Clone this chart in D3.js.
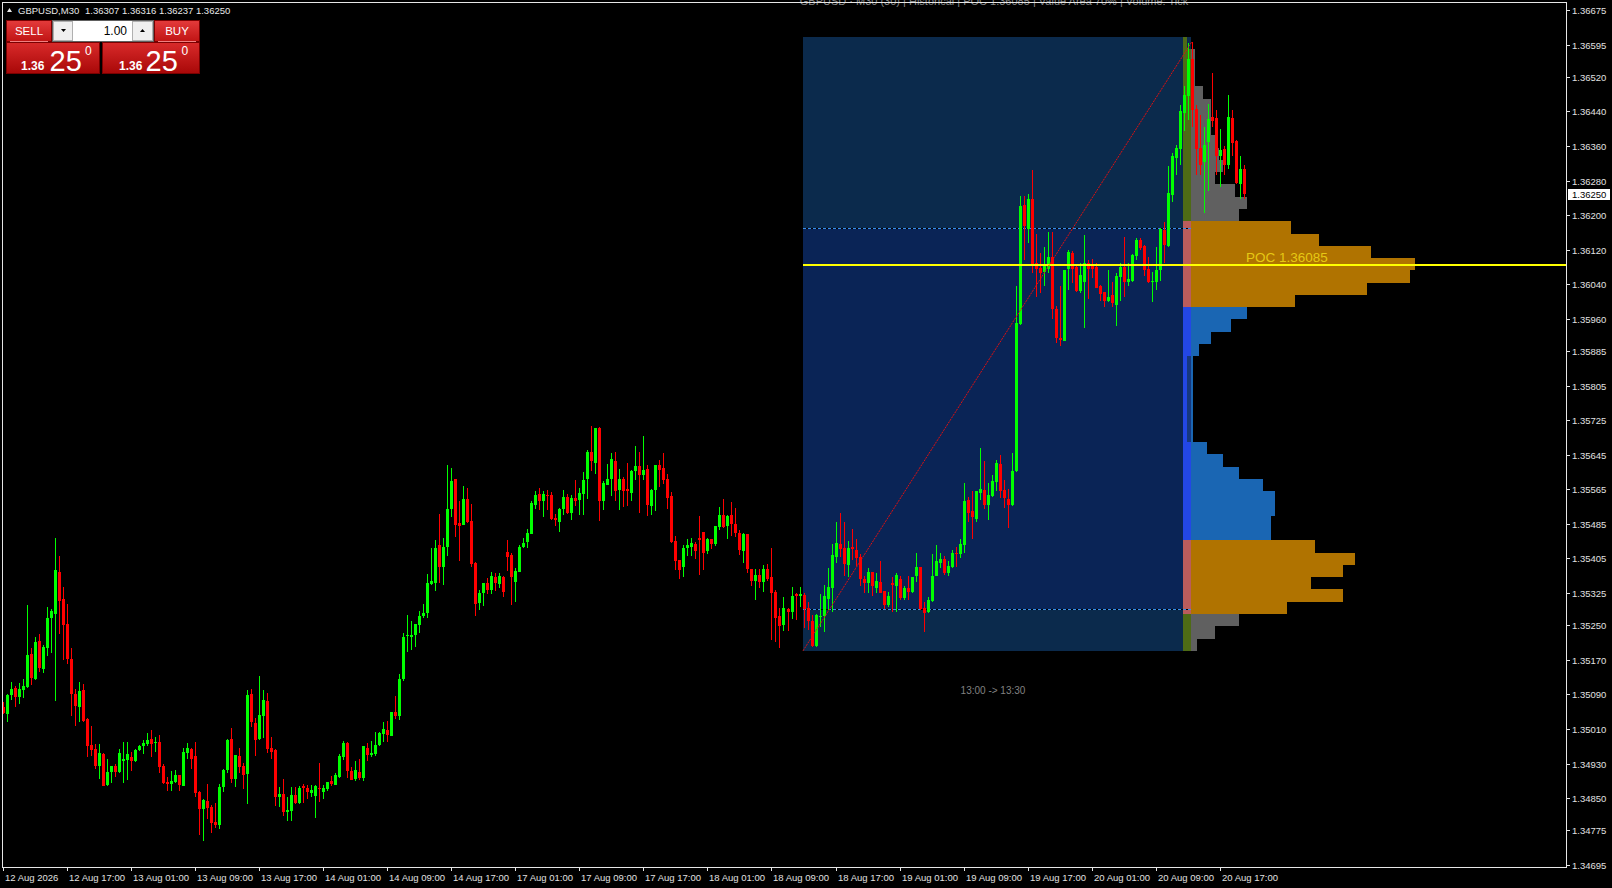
<!DOCTYPE html>
<html><head><meta charset="utf-8">
<script src="https://cdn.jsdelivr.net/npm/d3@7"></script>
<style>
html,body{margin:0;padding:0;background:#000;overflow:hidden}
svg{display:block}
text{font-family:"Liberation Sans",Arial,sans-serif}
</style></head><body>
<svg id="c" width="1612" height="888"></svg>
<script>
// ---------------- DATA ----------------
const symbol = "GBPUSD,M30";
const timeLabels = ["12 Aug 2026","12 Aug 17:00","13 Aug 01:00","13 Aug 09:00","13 Aug 17:00","14 Aug 01:00","14 Aug 09:00","14 Aug 17:00","17 Aug 01:00","17 Aug 09:00","17 Aug 17:00","18 Aug 01:00","18 Aug 09:00","18 Aug 17:00","19 Aug 01:00","19 Aug 09:00","19 Aug 17:00","20 Aug 01:00","20 Aug 09:00","20 Aug 17:00"];
const barsPerLabel = 16;
const priceTicks = [1.36675,1.36595,1.36520,1.36440,1.36360,1.36280,1.36200,1.36120,1.36040,1.35960,1.35885,1.35805,1.35725,1.35645,1.35565,1.35485,1.35405,1.35325,1.35250,1.35170,1.35090,1.35010,1.34930,1.34850,1.34775,1.34695];

const opens = [
1.35062,1.35045,1.35089,1.35104,1.35085,1.35100,1.35108,1.35183,1.35125,1.35213,
1.35149,1.35198,1.35268,1.35276,1.35373,1.35310,1.35253,1.35172,1.35091,1.35062,
1.35100,1.35033,1.34973,1.34963,1.34925,1.34952,1.34880,1.34910,1.34924,1.34910,
1.34937,1.34938,1.34944,1.34937,1.34961,1.34970,1.34975,1.34986,1.34977,1.34980,
1.34924,1.34888,1.34882,1.34888,1.34903,1.34879,1.34954,1.34963,1.34947,1.34864,
1.34824,1.34843,1.34830,1.34795,1.34787,1.34876,1.34915,1.34986,1.34895,1.34947,
1.34924,1.34906,1.35091,1.35024,1.34986,1.35041,1.35075,1.34966,1.34962,1.34853,
1.34859,1.34818,1.34821,1.34857,1.34838,1.34879,1.34874,1.34861,1.34855,1.34874,
1.34865,1.34871,1.34890,1.34880,1.34899,1.34946,1.34977,1.34913,1.34895,1.34911,
1.34897,1.34967,1.34950,1.34952,1.34972,1.34998,1.35007,1.34994,1.35050,1.35041,
1.35126,1.35225,1.35222,1.35228,1.35251,1.35272,1.35279,1.35346,1.35349,1.35435,
1.35384,1.35432,1.35520,1.35589,1.35488,1.35483,1.35543,1.35492,1.35395,1.35301,
1.35325,1.35349,1.35332,1.35363,1.35345,1.35363,1.35421,1.35413,1.35351,1.35374,
1.35432,1.35442,1.35462,1.35529,1.35554,1.35538,1.35552,1.35552,1.35499,1.35490,
1.35520,1.35547,1.35511,1.35546,1.35540,1.35554,1.35589,1.35651,1.35627,1.35706,
1.35538,1.35576,1.35589,1.35631,1.35564,1.35589,1.35566,1.35556,1.35608,1.35620,
1.35598,1.35612,1.35527,1.35564,1.35621,1.35614,1.35589,1.35550,1.35445,1.35401,
1.35384,1.35430,1.35432,1.35438,1.35453,1.35466,1.35422,1.35449,1.35438,1.35477,
1.35506,1.35479,1.35506,1.35485,1.35463,1.35423,1.35462,1.35381,1.35353,1.35367,
1.35351,1.35381,1.35361,1.35328,1.35272,1.35251,1.35287,1.35282,1.35322,1.35317,
1.35320,1.35290,1.35259,1.35203,1.35269,1.35272,1.35311,1.35337,1.35409,1.35438,
1.35430,1.35390,1.35432,1.35425,1.35408,1.35357,1.35347,1.35374,1.35337,1.35351,
1.35330,1.35296,1.35347,1.35342,1.35357,1.35314,1.35337,1.35328,1.35365,1.35385,
1.35290,1.35280,1.35306,1.35365,1.35395,1.35404,1.35372,1.35386,1.35418,1.35415,
1.35436,1.35540,1.35515,1.35496,1.35557,1.35564,1.35529,1.35550,1.35583,1.35624,
1.35564,1.35543,1.35529,1.35608,1.35948,1.36224,1.36168,1.36238,1.36089,1.36077,
1.36069,1.36075,1.36102,1.35982,1.35915,1.35909,1.36075,1.36112,1.36079,1.36025,
1.36046,1.36089,1.36085,1.36079,1.36035,1.36023,1.36002,1.36014,1.35992,1.36056,
1.36079,1.36046,1.36048,1.36106,1.36143,1.36129,1.36075,1.36046,1.36044,1.36072,
1.36166,1.36129,1.36247,1.36333,1.36353,1.36436,1.36476,1.36561,1.36445,1.36355,
1.36322,1.36370,1.36427,1.36424,1.36337,1.36353,1.36316,1.36424,1.36372,1.36272,
1.36307];
const highs = [
1.35073,1.35092,1.35118,1.35109,1.35116,1.35125,1.35297,1.35197,1.35222,1.35229,
1.35204,1.35292,1.35288,1.35452,1.35410,1.35338,1.35299,1.35197,1.35102,1.35118,
1.35114,1.35035,1.35017,1.34975,1.34975,1.34954,1.34940,1.34924,1.34930,1.34963,
1.34979,1.34979,1.34956,1.34963,1.34973,1.34984,1.35000,1.35008,1.34992,1.34995,
1.34930,1.34899,1.34912,1.34915,1.34903,1.34967,1.34977,1.34966,1.34979,1.34866,
1.34849,1.34882,1.34834,1.34838,1.34882,1.34918,1.34986,1.35012,1.34950,1.34966,
1.34932,1.35100,1.35102,1.35035,1.35133,1.35100,1.35094,1.34991,1.34964,1.34876,
1.34894,1.34853,1.34876,1.34876,1.34879,1.34882,1.34880,1.34880,1.34880,1.34932,
1.34880,1.34888,1.34902,1.34909,1.34952,1.34983,1.34980,1.34923,1.34936,1.34941,
1.34970,1.34977,1.34983,1.35003,1.35004,1.35026,1.35028,1.35050,1.35087,1.35137,
1.35232,1.35274,1.35260,1.35253,1.35284,1.35300,1.35369,1.35429,1.35448,1.35508,
1.35452,1.35621,1.35614,1.35589,1.35537,1.35573,1.35567,1.35531,1.35396,1.35332,
1.35349,1.35359,1.35374,1.35372,1.35371,1.35364,1.35448,1.35417,1.35382,1.35435,
1.35452,1.35472,1.35538,1.35561,1.35568,1.35561,1.35564,1.35559,1.35508,1.35521,
1.35564,1.35554,1.35552,1.35587,1.35568,1.35605,1.35656,1.35712,1.35706,1.35709,
1.35585,1.35624,1.35648,1.35652,1.35612,1.35593,1.35626,1.35610,1.35665,1.35652,
1.35689,1.35621,1.35566,1.35621,1.35633,1.35650,1.35601,1.35559,1.35457,1.35401,
1.35435,1.35449,1.35452,1.35442,1.35503,1.35466,1.35453,1.35449,1.35480,1.35523,
1.35543,1.35506,1.35536,1.35521,1.35471,1.35463,1.35462,1.35381,1.35381,1.35381,
1.35390,1.35392,1.35428,1.35332,1.35290,1.35315,1.35290,1.35338,1.35326,1.35338,
1.35326,1.35305,1.35274,1.35276,1.35322,1.35344,1.35382,1.35438,1.35489,1.35510,
1.35490,1.35445,1.35473,1.35450,1.35415,1.35365,1.35382,1.35374,1.35371,1.35399,
1.35330,1.35328,1.35363,1.35372,1.35365,1.35341,1.35364,1.35363,1.35417,1.35385,
1.35303,1.35315,1.35415,1.35436,1.35418,1.35411,1.35400,1.35425,1.35432,1.35449,
1.35580,1.35547,1.35560,1.35562,1.35660,1.35631,1.35579,1.35598,1.35632,1.35645,
1.35587,1.35565,1.35650,1.36035,1.36245,1.36245,1.36249,1.36305,1.36157,1.36112,
1.36126,1.36160,1.36160,1.35990,1.36035,1.36073,1.36119,1.36116,1.36085,1.36089,
1.36154,1.36096,1.36098,1.36089,1.36038,1.36023,1.36072,1.36046,1.36065,1.36089,
1.36150,1.36089,1.36110,1.36146,1.36146,1.36131,1.36104,1.36069,1.36127,1.36170,
1.36185,1.36314,1.36343,1.36363,1.36455,1.36498,1.36598,1.36602,1.36455,1.36432,
1.36404,1.36458,1.36530,1.36444,1.36399,1.36359,1.36478,1.36444,1.36374,1.36336,
1.36316];
const lows = [
1.35044,1.35027,1.35077,1.35060,1.35068,1.35082,1.35104,1.35112,1.35123,1.35143,
1.35139,1.35180,1.35187,1.35075,1.35231,1.35170,1.35160,1.35041,1.35018,1.35027,
1.35027,1.34946,1.34947,1.34917,1.34895,1.34878,1.34878,1.34886,1.34899,1.34907,
1.34886,1.34892,1.34913,1.34933,1.34960,1.34952,1.34971,1.34946,1.34957,1.34909,
1.34882,1.34867,1.34866,1.34884,1.34867,1.34878,1.34940,1.34918,1.34852,1.34765,
1.34751,1.34801,1.34770,1.34780,1.34778,1.34864,1.34907,1.34886,1.34875,1.34909,
1.34872,1.34836,1.35015,1.34948,1.34984,1.34990,1.34954,1.34941,1.34831,1.34830,
1.34809,1.34798,1.34798,1.34836,1.34836,1.34838,1.34847,1.34852,1.34804,1.34842,
1.34849,1.34867,1.34879,1.34880,1.34896,1.34938,1.34897,1.34892,1.34890,1.34892,
1.34890,1.34936,1.34946,1.34948,1.34970,1.34981,1.34981,1.34994,1.35032,1.35031,
1.35120,1.35188,1.35193,1.35201,1.35232,1.35266,1.35266,1.35344,1.35330,1.35349,
1.35344,1.35411,1.35502,1.35455,1.35398,1.35483,1.35488,1.35384,1.35272,1.35286,
1.35295,1.35322,1.35323,1.35330,1.35337,1.35315,1.35376,1.35297,1.35305,1.35373,
1.35430,1.35430,1.35462,1.35520,1.35517,1.35502,1.35517,1.35493,1.35479,1.35467,
1.35506,1.35508,1.35494,1.35527,1.35506,1.35506,1.35543,1.35608,1.35601,1.35492,
1.35516,1.35574,1.35550,1.35537,1.35517,1.35523,1.35527,1.35537,1.35587,1.35510,
1.35587,1.35503,1.35506,1.35515,1.35571,1.35577,1.35520,1.35440,1.35378,1.35357,
1.35361,1.35411,1.35411,1.35404,1.35367,1.35378,1.35415,1.35426,1.35434,1.35471,
1.35475,1.35449,1.35458,1.35454,1.35413,1.35395,1.35371,1.35340,1.35309,1.35336,
1.35328,1.35353,1.35216,1.35212,1.35198,1.35238,1.35236,1.35265,1.35262,1.35293,
1.35245,1.35239,1.35199,1.35201,1.35247,1.35234,1.35285,1.35282,1.35395,1.35409,
1.35365,1.35363,1.35401,1.35388,1.35340,1.35324,1.35326,1.35318,1.35326,1.35324,
1.35287,1.35293,1.35280,1.35280,1.35309,1.35309,1.35309,1.35324,1.35351,1.35286,
1.35234,1.35278,1.35303,1.35364,1.35382,1.35367,1.35364,1.35382,1.35386,1.35405,
1.35417,1.35490,1.35449,1.35490,1.35540,1.35519,1.35494,1.35548,1.35560,1.35544,
1.35521,1.35476,1.35527,1.35605,1.35945,1.36096,1.36135,1.36065,1.36011,1.36019,
1.36036,1.36067,1.35959,1.35903,1.35896,1.35909,1.36027,1.36042,1.36023,1.36019,
1.35938,1.36005,1.36054,1.36031,1.36000,1.35987,1.35998,1.35988,1.35944,1.36000,
1.36011,1.36035,1.36046,1.36096,1.36119,1.36058,1.36042,1.35998,1.36027,1.36048,
1.36089,1.36126,1.36231,1.36293,1.36316,1.36394,1.36421,1.36405,1.36293,1.36293,
1.36204,1.36255,1.36405,1.36293,1.36266,1.36293,1.36306,1.36337,1.36272,1.36237,
1.36237];
const closes = [
1.35046,1.35089,1.35102,1.35085,1.35102,1.35109,1.35181,1.35129,1.35211,1.35152,
1.35200,1.35268,1.35283,1.35378,1.35307,1.35251,1.35172,1.35091,1.35063,1.35098,
1.35028,1.34971,1.34961,1.34925,1.34954,1.34879,1.34910,1.34924,1.34910,1.34954,
1.34940,1.34952,1.34937,1.34961,1.34970,1.34977,1.34984,1.34975,1.34980,1.34923,
1.34886,1.34882,1.34889,1.34903,1.34880,1.34957,1.34966,1.34940,1.34861,1.34825,
1.34845,1.34828,1.34793,1.34787,1.34876,1.34915,1.34984,1.34895,1.34950,1.34923,
1.34903,1.35089,1.35026,1.34984,1.35042,1.35077,1.34963,1.34957,1.34853,1.34859,
1.34818,1.34822,1.34857,1.34838,1.34874,1.34874,1.34865,1.34869,1.34878,1.34870,
1.34874,1.34887,1.34882,1.34903,1.34947,1.34977,1.34913,1.34893,1.34916,1.34897,
1.34970,1.34950,1.34955,1.34972,1.35001,1.35010,1.34996,1.35050,1.35041,1.35126,
1.35224,1.35228,1.35228,1.35253,1.35272,1.35278,1.35349,1.35353,1.35430,1.35384,
1.35432,1.35520,1.35584,1.35483,1.35480,1.35543,1.35489,1.35393,1.35300,1.35325,
1.35349,1.35332,1.35365,1.35349,1.35365,1.35328,1.35409,1.35361,1.35377,1.35432,
1.35440,1.35463,1.35533,1.35552,1.35538,1.35554,1.35550,1.35496,1.35493,1.35520,
1.35547,1.35510,1.35546,1.35537,1.35556,1.35587,1.35651,1.35631,1.35706,1.35537,
1.35580,1.35589,1.35635,1.35561,1.35589,1.35562,1.35560,1.35608,1.35620,1.35598,
1.35610,1.35529,1.35564,1.35621,1.35610,1.35587,1.35545,1.35442,1.35399,1.35378,
1.35430,1.35435,1.35440,1.35422,1.35448,1.35418,1.35450,1.35438,1.35479,1.35506,
1.35477,1.35503,1.35485,1.35463,1.35425,1.35462,1.35381,1.35353,1.35367,1.35351,
1.35381,1.35357,1.35326,1.35268,1.35249,1.35290,1.35282,1.35318,1.35318,1.35323,
1.35288,1.35259,1.35203,1.35274,1.35272,1.35318,1.35338,1.35413,1.35440,1.35427,
1.35392,1.35430,1.35426,1.35407,1.35357,1.35347,1.35374,1.35340,1.35353,1.35326,
1.35297,1.35318,1.35344,1.35367,1.35314,1.35337,1.35328,1.35363,1.35386,1.35288,
1.35279,1.35309,1.35364,1.35398,1.35404,1.35371,1.35388,1.35418,1.35415,1.35438,
1.35538,1.35510,1.35500,1.35560,1.35566,1.35529,1.35552,1.35584,1.35627,1.35562,
1.35544,1.35529,1.35608,1.35950,1.36222,1.36174,1.36238,1.36085,1.36075,1.36067,
1.36081,1.36102,1.35982,1.35915,1.35911,1.36073,1.36115,1.36075,1.36025,1.36062,
1.36089,1.36075,1.36075,1.36032,1.36018,1.36000,1.36011,1.35996,1.36059,1.36079,
1.36046,1.36052,1.36108,1.36143,1.36123,1.36072,1.36044,1.36048,1.36073,1.36168,
1.36131,1.36251,1.36336,1.36355,1.36440,1.36478,1.36561,1.36444,1.36353,1.36316,
1.36363,1.36422,1.36419,1.36337,1.36351,1.36316,1.36427,1.36368,1.36274,1.36306,
1.36250];

// Volume profile (bins from low to high)
const profileLow = 1.35191, profileHigh = 1.36612;
const profileVolume = [27,107,214,428,678,535,678,732,553,357,
357,375,375,321,214,143,71,9,9,9,
9,9,9,9,36,89,178,250,464,785,
977,1000,803,571,446,214,250,196,107,143,
125,107,89,89,89,54,18,18,18,0];
const pocPrice = 1.36085, vahPrice = 1.36170, valPrice = 1.35288;
const highVolumeNode = 400;
const rangeStartBar = 200, rangeEndBar = 295;
const rangeLabel = "13:00 -> 13:30";
const indicatorTitle = "GBPUSD · M30 (30) | Historical | POC 1.36085 | Value Area 70% | Volume: Tick";

// ---------------- DRAW ----------------
const svg = d3.select("#c");
const plot = {left:2, top:2, right:1566, bottom:867};
const x = d3.scaleLinear().domain([0, 304]).range([2.6, 1220.0]);
const y = d3.scaleLinear().domain([1.34695, 1.36675]).range([865, 10]);
const vol = d3.scaleLinear().domain([0, d3.max(profileVolume)]).range([0, 224]);

const defs = svg.append("defs");
defs.append("clipPath").attr("id","plotclip").append("rect")
  .attr("x",plot.left).attr("y",plot.top).attr("width",plot.right-plot.left).attr("height",plot.bottom-plot.top);
function grad(id, c1, c2){
  const g = defs.append("linearGradient").attr("id",id).attr("x1",0).attr("y1",0).attr("x2",0).attr("y2",1);
  g.append("stop").attr("offset","0%").attr("stop-color",c1);
  g.append("stop").attr("offset","100%").attr("stop-color",c2);
}
grad("gBtn","#e43b3b","#c01414");
grad("gBig","#d92a2a","#a80808");

svg.append("rect").attr("width",1612).attr("height",888).attr("fill","#000");

// Indicator title (mostly above the visible area, under the frame)
svg.append("text").attr("x",994).attr("y",4.5).attr("text-anchor","middle")
  .attr("font-size",11).attr("fill","#8a8a8a").text(indicatorTitle);

const g = svg.append("g").attr("clip-path","url(#plotclip)").attr("shape-rendering","crispEdges");

// Range box
const bx0 = Math.floor(x(rangeStartBar));
const bx1 = Math.floor(x(rangeEndBar));
const stripW = 8;
const hx0 = bx1 + stripW;
const yTop = y(profileHigh), yBot = y(profileLow);
g.append("rect").attr("x",bx0).attr("y",Math.round(yTop)).attr("width",bx1-bx0).attr("height",Math.round(yBot)-Math.round(yTop)).attr("fill","#0b2a4c");
g.append("rect").attr("x",bx0).attr("y",Math.round(y(vahPrice))).attr("width",bx1-bx0).attr("height",Math.round(y(valPrice))-Math.round(y(vahPrice))).attr("fill","#0a2456");

// Profile bins
const nb = profileVolume.length;
const binSize = (profileHigh - profileLow)/nb;
const bins = profileVolume.map((v,j)=>{
  const lo = profileLow + j*binSize, hi = lo + binSize, mid = lo + binSize/2;
  const inVA = mid <= vahPrice + binSize/2 && mid >= valPrice - binSize/2;
  const zone = !inVA ? "out" : (v >= highVolumeNode ? "hvn" : "lvn");
  return {v, lo, hi, zone};
});
const histColor = {out:"#606060", hvn:"#b07300", lvn:"#1a66b3"};
const stripColor = {out:"#4e6b15", hvn:"#ba5c5c", lvn:"#2347e6"};
const stripDark = {out:"#0b2a4c", hvn:"#ba5c5c", lvn:"#17387e"};
g.selectAll("rect.hist").data(bins).join("rect").attr("class","hist")
  .attr("x",hx0).attr("y",d=>Math.round(y(d.hi))).attr("height",d=>Math.round(y(d.lo))-Math.round(y(d.hi)))
  .attr("width",d=>Math.round(vol(d.v))).attr("fill",d=>histColor[d.zone]);
g.selectAll("rect.strip").data(bins).join("rect").attr("class","strip")
  .attr("x",bx1).attr("y",d=>Math.round(y(d.hi))).attr("height",d=>Math.round(y(d.lo))-Math.round(y(d.hi)))
  .attr("width",stripW/2).attr("fill",d=>stripColor[d.zone]);
g.selectAll("rect.strip2").data(bins).join("rect").attr("class","strip2")
  .attr("x",bx1+stripW/2).attr("y",d=>Math.round(y(d.hi))).attr("height",d=>Math.round(y(d.lo))-Math.round(y(d.hi)))
  .attr("width",stripW/2).attr("fill",d=> d.v < 15 ? stripDark[d.zone] : stripColor[d.zone]);

// Value area dotted lines
[vahPrice, valPrice].forEach(p=>{
  const yy = Math.round(y(p)) + 0.5;
  g.append("line").attr("x1",bx0).attr("x2",hx0).attr("y1",yy).attr("y2",yy).attr("stroke","#000").attr("stroke-width",1);
  g.append("line").attr("x1",bx0).attr("x2",hx0).attr("y1",yy).attr("y2",yy).attr("stroke","#3a8ee8").attr("stroke-width",1).attr("stroke-dasharray","3,2");
});

// Diagonal from range low to highest high
let hiBar = rangeStartBar;
for (let i=rangeStartBar;i<highs.length;i++) if (highs[i] > highs[hiBar]) hiBar = i;
svg.append("line").attr("clip-path","url(#plotclip)")
  .attr("x1",bx0).attr("y1",yBot).attr("x2",x(hiBar)).attr("y2",y(highs[hiBar]))
  .attr("stroke","#e01010").attr("stroke-width",1).attr("stroke-dasharray","2,1");

// Candles
const candles = opens.map((o,i)=>({i,o,h:Math.max(highs[i],o,closes[i]),l:Math.min(lows[i],o,closes[i]),c:closes[i]}));
const cg = g.append("g");
cg.selectAll("rect.wick").data(candles).join("rect").attr("class","wick")
  .attr("x",d=>Math.round(x(d.i))).attr("width",1)
  .attr("y",d=>Math.round(y(d.h))).attr("height",d=>Math.max(1,Math.round(y(d.l))-Math.round(y(d.h))))
  .attr("fill",d=>d.c>=d.o?"#00ff00":"#ff0000");
cg.selectAll("rect.body").data(candles).join("rect").attr("class","body")
  .attr("x",d=>Math.round(x(d.i))-1).attr("width",3)
  .attr("y",d=>Math.round(y(Math.max(d.o,d.c))))
  .attr("height",d=>Math.max(1,Math.round(y(Math.min(d.o,d.c)))-Math.round(y(Math.max(d.o,d.c)))))
  .attr("fill",d=>d.c>=d.o?"#00ff00":"#ff0000");

// POC line & label
const yPoc = Math.round(y(pocPrice));
g.append("rect").attr("x",bx0).attr("y",yPoc-1).attr("width",plot.right-bx0).attr("height",2).attr("fill","#ffff00");
svg.append("text").attr("x",hx0+55).attr("y",yPoc-3).attr("font-size",13.5).attr("fill","#e6c814")
  .text("POC " + pocPrice.toFixed(5));

// Range label under box
svg.append("text").attr("x",(bx0+bx1)/2).attr("y",694).attr("text-anchor","middle")
  .attr("font-size",10).attr("fill","#808080").text(rangeLabel);

// Frame
svg.append("rect").attr("x",plot.left+0.5).attr("y",plot.top+0.5).attr("width",plot.right-plot.left).attr("height",plot.bottom-plot.top)
  .attr("fill","none").attr("stroke","#e6e6e6").attr("stroke-width",1).attr("shape-rendering","crispEdges");

// Right price axis
const ax = svg.append("g").attr("shape-rendering","crispEdges");
priceTicks.forEach(p=>{
  const yy = Math.round(y(p)) + 0.5;
  ax.append("line").attr("x1",plot.right).attr("x2",plot.right+4).attr("y1",yy).attr("y2",yy).attr("stroke","#e6e6e6");
  ax.append("text").attr("x",1572).attr("y",yy).attr("dy","0.35em").attr("font-size",9.5).attr("fill","#e0e0e0").text(p.toFixed(5));
});
// Current price marker
const last = closes[closes.length-1];
const yLast = y(last);
svg.append("rect").attr("x",1568).attr("y",Math.round(yLast)-5).attr("width",42).attr("height",11).attr("fill","#ffffff");
svg.append("text").attr("x",1572).attr("y",Math.round(yLast)+0.5).attr("dy","0.35em").attr("font-size",9.5).attr("fill","#000").text(last.toFixed(5));

// Bottom time axis
timeLabels.forEach((t,j)=>{
  const xx = Math.round(x(j*barsPerLabel)) + 0.5;
  ax.append("line").attr("x1",xx).attr("x2",xx).attr("y1",plot.bottom).attr("y2",plot.bottom+4).attr("stroke","#e6e6e6");
  ax.append("text").attr("x",xx+1.5).attr("y",881).attr("font-size",9.5).attr("fill","#e0e0e0").text(t);
});

// Header line
const lo = opens.length-1;
svg.append("path").attr("d","M7,12 L9.5,8 L12,12 Z").attr("fill","#e8e8e8");
svg.append("text").attr("x",18).attr("y",14).attr("font-size",9.5).attr("fill","#e8e8e8").text(symbol);
svg.append("text").attr("x",85).attr("y",14).attr("font-size",9.5).attr("fill","#e8e8e8")
  .text([opens[lo],highs[lo],lows[lo],closes[lo]].map(v=>v.toFixed(5)).join(" "));

// One-click trading panel
const pnl = svg.append("g");
const priceStr = last.toFixed(5);
const big = priceStr.slice(0,4), pips = priceStr.slice(4,6), frac = priceStr.slice(6);
pnl.append("rect").attr("x",6.5).attr("y",20.5).attr("width",45).attr("height",21).attr("fill","url(#gBtn)").attr("stroke","#7a0000");
pnl.append("rect").attr("x",154.5).attr("y",20.5).attr("width",45).attr("height",21).attr("fill","url(#gBtn)").attr("stroke","#7a0000");
pnl.append("text").attr("x",29).attr("y",35).attr("text-anchor","middle").attr("font-size",11.5).attr("fill","#fff").text("SELL");
pnl.append("text").attr("x",177).attr("y",35).attr("text-anchor","middle").attr("font-size",11.5).attr("fill","#fff").text("BUY");
pnl.append("line").attr("x1",10).attr("x2",48).attr("y1",41.5).attr("y2",41.5).attr("stroke","#f08080");
pnl.append("line").attr("x1",158).attr("x2",196).attr("y1",41.5).attr("y2",41.5).attr("stroke","#f08080");
// lot spinner
pnl.append("rect").attr("x",52.5).attr("y",20.5).attr("width",101).attr("height",21).attr("fill","#ffffff").attr("stroke","#606060");
pnl.append("rect").attr("x",53.5).attr("y",21.5).attr("width",19).attr("height",19).attr("fill","#f0f0f0").attr("stroke","#b0b0b0");
pnl.append("rect").attr("x",132.5).attr("y",21.5).attr("width",20).attr("height",19).attr("fill","#f0f0f0").attr("stroke","#b0b0b0");
pnl.append("path").attr("d","M61,29 L66,29 L63.5,32 Z").attr("fill","#000");
pnl.append("path").attr("d","M140,32 L145,32 L142.5,29 Z").attr("fill","#000");
pnl.append("text").attr("x",127).attr("y",35).attr("text-anchor","end").attr("font-size",12).attr("fill","#000").text("1.00");
// price boxes
[[6.5,21,49.5,85],[102.5,119,145.5,181.5]].forEach(([bx,tx1,tx2,tx3])=>{
  pnl.append("rect").attr("x",bx).attr("y",42.5).attr("width",bx===6.5?93:97).attr("height",31).attr("fill","url(#gBig)").attr("stroke","#7a0000");
  pnl.append("text").attr("x",tx1).attr("y",69.5).attr("font-size",12).attr("font-weight","bold").attr("fill","#fff").text(big);
  pnl.append("text").attr("x",tx2).attr("y",70.5).attr("font-size",29).attr("fill","#fff").text(pips);
  pnl.append("text").attr("x",tx3).attr("y",55).attr("font-size",12).attr("fill","#fff").text(frac);
});
</script>
</body></html>
